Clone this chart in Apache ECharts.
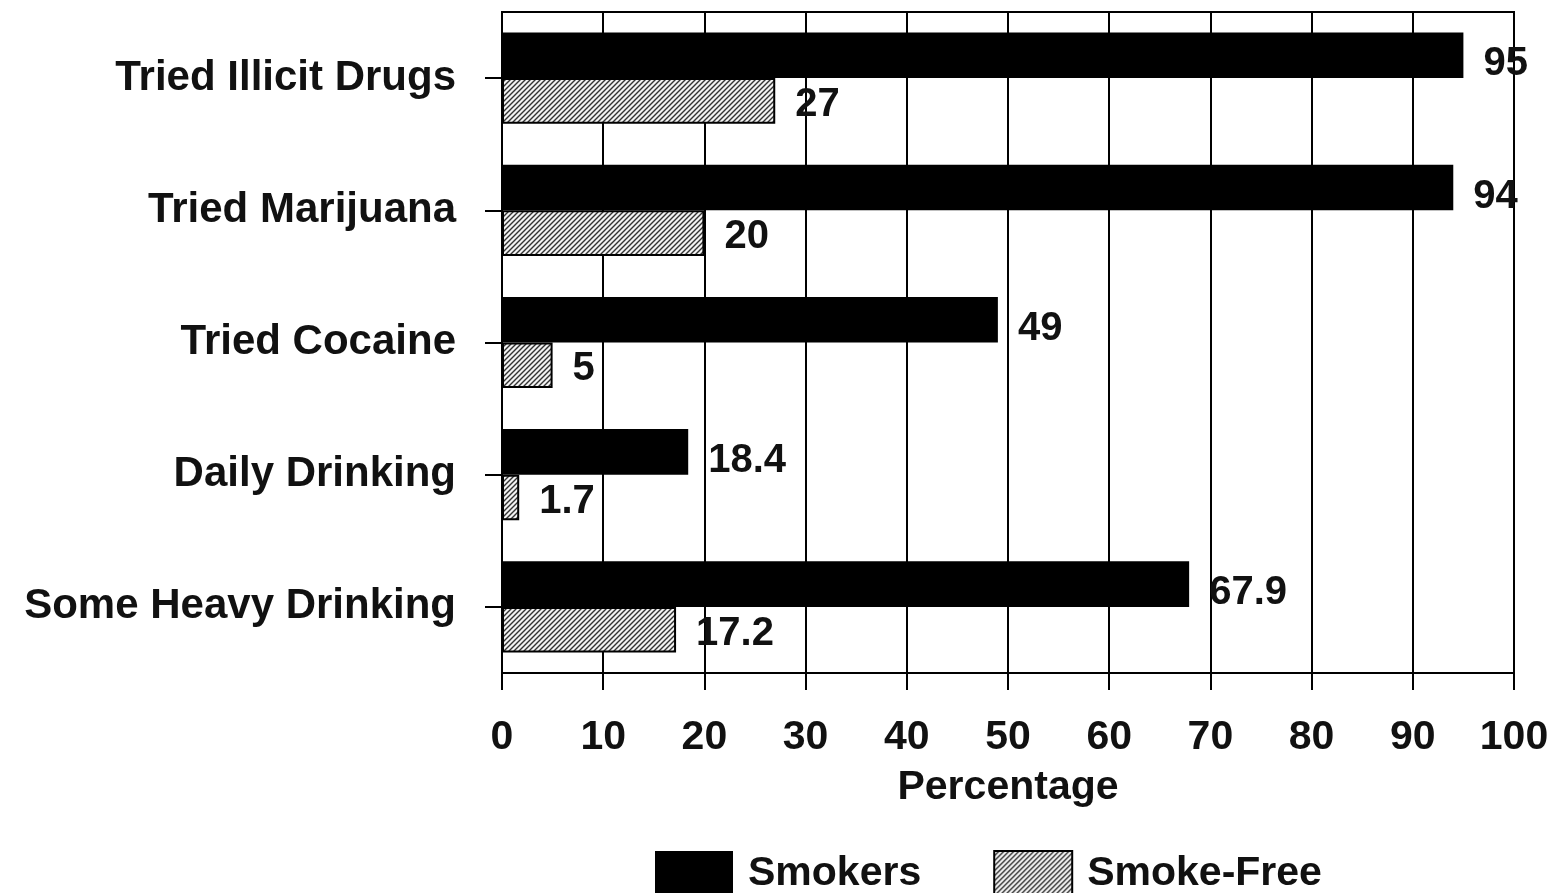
<!DOCTYPE html>
<html>
<head>
<meta charset="utf-8">
<script src="https://cdn.jsdelivr.net/npm/echarts@6/dist/echarts.min.js"></script>
<style>
html,body{margin:0;padding:0;background:#fff;}
#chart{width:1562px;height:893px;}
</style>
</head>
<body>
<div id="chart"></div>
<script>
const categories = ['Tried Illicit Drugs', 'Tried Marijuana', 'Tried Cocaine', 'Daily Drinking', 'Some Heavy Drinking'];
const smokers = [95, 94, 49, 18.4, 67.9];
const smokeFree = [27, 20, 5, 1.7, 17.2];
const xTicks = [0, 10, 20, 30, 40, 50, 60, 70, 80, 90, 100];

function hatch() {
  const s = 5;
  const c = document.createElement('canvas');
  c.width = s; c.height = s;
  const g = c.getContext('2d');
  g.fillStyle = '#f2f2f2';
  g.fillRect(0, 0, s, s);
  g.strokeStyle = '#333';
  g.lineWidth = 1.4;
  g.beginPath();
  g.moveTo(-1, s + 1); g.lineTo(s + 1, -1);
  g.moveTo(-1, 1); g.lineTo(1, -1);
  g.moveTo(s - 1, s + 1); g.lineTo(s + 1, s - 1);
  g.stroke();
  return c;
}
const hatchColor = { image: hatch(), repeat: 'repeat' };
const FONT = '"Liberation Sans", Arial, sans-serif';

const chart = echarts.init(document.getElementById('chart'));
chart.setOption({
  animation: false,
  backgroundColor: '#fff',
  textStyle: { fontFamily: FONT },
  grid: { left: 502, right: 48, top: 12, bottom: 220, show: true, borderColor: '#000', borderWidth: 2, containLabel: false },
  legend: {
    left: 650, top: 845,
    itemWidth: 78, itemHeight: 46, itemGap: 72,
    textStyle: { fontSize: 41, fontWeight: 'bold', color: '#111', fontFamily: FONT, padding: [16, 0, 0, 10] },
    data: [
      { name: 'Smokers', icon: 'rect' },
      { name: 'Smoke-Free', icon: 'rect' }
    ]
  },
  xAxis: {
    type: 'value', min: 0, max: 100, interval: 10,
    name: 'Percentage', nameLocation: 'middle', nameGap: 94,
    nameTextStyle: { fontSize: 41, fontWeight: 'bold', color: '#111', fontFamily: FONT },
    axisLine: { show: true, lineStyle: { color: '#000', width: 2 } },
    axisTick: { show: true, length: 17, lineStyle: { color: '#000', width: 2 } },
    axisLabel: {
      margin: 44, fontSize: 41, fontWeight: 'bold', color: '#111', fontFamily: FONT,
      formatter: v => (xTicks.indexOf(v) >= 0 ? String(v) : '')
    },
    splitLine: { show: true, lineStyle: { color: '#000', width: 2 } }
  },
  yAxis: {
    type: 'category', data: categories, inverse: true,
    axisLine: { show: true, lineStyle: { color: '#000', width: 2 } },
    axisTick: { show: true, alignWithLabel: true, length: 17, lineStyle: { color: '#000', width: 2 } },
    axisLabel: { margin: 46, fontSize: 42, fontWeight: 'bold', color: '#111', fontFamily: FONT, padding: [8, 0, 0, 0] },
    splitLine: { show: false }
  },
  series: [
    {
      name: 'Smokers', type: 'bar', data: smokers,
      barCategoryGap: '31%', barGap: '0%',
      itemStyle: { color: '#000' },
      label: { show: true, position: 'right', distance: 20, fontSize: 40, fontWeight: 'bold', color: '#111', fontFamily: FONT, offset: [0, 9] }
    },
    {
      name: 'Smoke-Free', type: 'bar', data: smokeFree,
      barCategoryGap: '31%', barGap: '0%',
      itemStyle: { color: hatchColor, borderColor: '#000', borderWidth: 2 },
      label: { show: true, position: 'right', distance: 20, fontSize: 40, fontWeight: 'bold', color: '#111', fontFamily: FONT, offset: [0, 4] }
    }
  ]
});
</script>
</body>
</html>
